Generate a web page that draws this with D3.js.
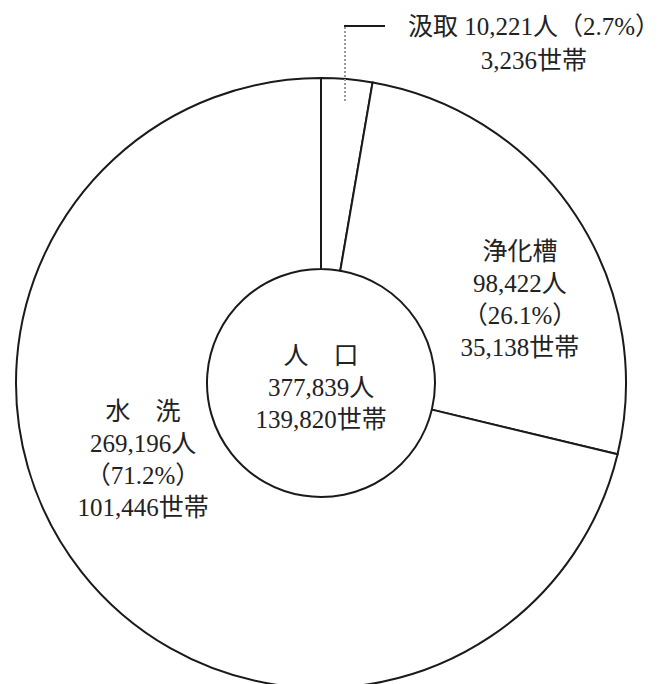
<!DOCTYPE html>
<html>
<head>
<meta charset="utf-8">
<script src="https://cdn.jsdelivr.net/npm/d3@7"></script>
<style>
  html, body { margin: 0; padding: 0; background: #fff; }
  svg text {
    font-family: "Liberation Serif", "Noto Sans CJK JP", serif;
    font-weight: 400;
    fill: #222;
  }
</style>
</head>
<body>
<div id="chart"></div>
<script>
// data
const categories = ['汲取', '浄化槽', '水　洗'];
const persons = [10221, 98422, 269196];
const shares = [2.7, 26.1, 71.2];
const households = [3236, 35138, 101446];
const totalLabel = '人　口';
const totalPersons = 377839;
const totalHouseholds = 139820;

const width = 665, height = 684;
const cx = 321, cy = 383;
const outerR = 305, innerR = 114;
const fontSize = 25;
const lineH = 32;
const fmt = d3.format(',');

const svg = d3.select('#chart').append('svg')
  .attr('width', width)
  .attr('height', height);

const g = svg.append('g').attr('transform', `translate(${cx},${cy})`);

const pie = d3.pie().sort(null).value(d => d)
  .startAngle(0).endAngle(2 * Math.PI);
const arcs = pie(persons);

const arc = d3.arc().innerRadius(innerR).outerRadius(outerR);

g.selectAll('path.slice')
  .data(arcs)
  .enter()
  .append('path')
  .attr('class', 'slice')
  .attr('d', arc)
  .attr('fill', '#fff')
  .attr('stroke', '#1a1a1a')
  .attr('stroke-width', 2);

// centre label
const centreLines = [totalLabel, fmt(totalPersons) + '人', fmt(totalHouseholds) + '世帯'];
g.append('text')
  .attr('text-anchor', 'middle')
  .attr('font-size', fontSize)
  .selectAll('tspan')
  .data(centreLines)
  .enter()
  .append('tspan')
  .attr('x', 0)
  .attr('y', (d, i) => -28 + i * lineH)
  .attr('dominant-baseline', 'central')
  .text(d => d);

// labels inside the two big slices (offsets from centre)
const labelPos = [null, [199, -84], [-178, 76]];
arcs.forEach((a, i) => {
  if (!labelPos[i]) return;
  const lines = [
    categories[i],
    fmt(persons[i]) + '人',
    '（' + shares[i] + '%）',
    fmt(households[i]) + '世帯'
  ];
  g.append('text')
    .attr('text-anchor', 'middle')
    .attr('font-size', fontSize)
    .selectAll('tspan')
    .data(lines)
    .enter()
    .append('tspan')
    .attr('x', labelPos[i][0])
    .attr('y', (d, k) => labelPos[i][1] + (k - 1.5) * lineH)
    .attr('dominant-baseline', 'central')
    .text(d => d);
});

// leader for the small slice
const small = arcs[0];
const mid = (small.startAngle + small.endAngle) / 2;
const sx = Math.sin(mid) * (outerR - 22);
const sy = -Math.cos(mid) * (outerR - 22);
const topY = 26 - cy;

g.append('line')
  .attr('x1', sx).attr('y1', sy)
  .attr('x2', sx).attr('y2', topY)
  .attr('stroke', '#9a9a9a')
  .attr('stroke-width', 2)
  .attr('stroke-dasharray', '2,2');

g.append('line')
  .attr('x1', sx - 1).attr('y1', topY)
  .attr('x2', sx + 40).attr('y2', topY)
  .attr('stroke', '#1a1a1a')
  .attr('stroke-width', 2);

const smallLines = [
  categories[0] + ' ' + fmt(persons[0]) + '人（' + shares[0] + '%）',
  fmt(households[0]) + '世帯'
];
g.append('text')
  .attr('text-anchor', 'middle')
  .attr('font-size', fontSize)
  .selectAll('tspan')
  .data(smallLines)
  .enter()
  .append('tspan')
  .attr('x', 534 - cx)
  .attr('y', (d, i) => topY + i * 34)
  .attr('dominant-baseline', 'central')
  .text(d => d);
</script>
</body>
</html>
